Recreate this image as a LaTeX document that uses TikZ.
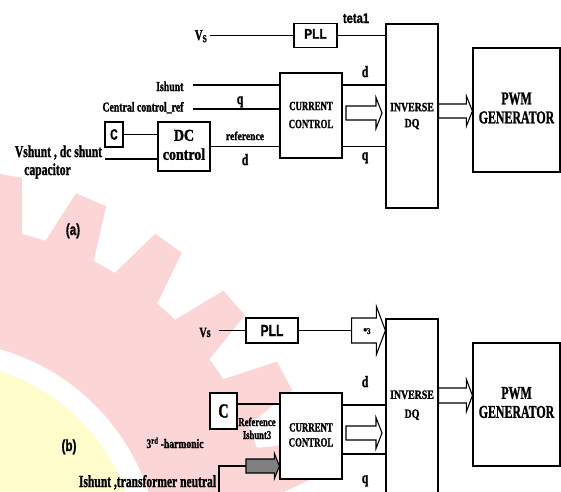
\documentclass[tikz,border=0pt]{standalone}
\usepackage{fontspec}
\setmainfont{Liberation Serif}[BoldFeatures={FakeBold=1.6}]
\setsansfont{Liberation Sans}[BoldFeatures={FakeBold=1.2}]
\usetikzlibrary{calc}
\definecolor{wmpink}{RGB}{252,213,215}
\definecolor{wmyellow}{RGB}{255,253,204}
\definecolor{arrgray}{RGB}{128,128,128}
\newcommand\fs[2]{\fontsize{#1}{#2}\selectfont\bfseries}
\newcommand\sq[2][0.72]{\scalebox{#1}[1]{#2}}
\newcommand\sqz[2][0.72]{\scalebox{#1}[1]{\begin{tabular}{@{}c@{}}#2\end{tabular}}}
\newcommand\harrow[6]{\draw[#6] let \p1=(#1), \p2=(#2) in (\x1,\y1+#3pt) -- (\x2-#5pt,\y1+#3pt) -- (\x2-#5pt,\y1+#4pt) -- (\x2,\y1) -- (\x2-#5pt,\y1-#4pt) -- (\x2-#5pt,\y1-#3pt) -- (\x1,\y1-#3pt) -- cycle;}
\begin{document}
\begin{tikzpicture}[x=1pt,y=-1pt,line width=1.2pt,
  box/.style={draw,fill=white,rectangle,inner sep=0pt,line width=1.2pt},
  lab/.style={inner sep=0pt,anchor=base},
  harr/.style={fill=white,line width=1.1pt}]
\useasboundingbox (0,0) rectangle (561,491);
\clip (0,0) rectangle (561,491);
% watermark gear
\begin{scope}[shift={(-60,560)}]
  \fill[wmpink] (0,0) circle[radius=336];
  \foreach \a in {119.45,106.4,93.35,80.3,67.25,54.2,41.15,28.1,15.05,2.0,-11.05}{
    \fill[wmpink] ({333*cos(\a-4.6)},{-333*sin(\a-4.6)}) -- ({391*cos(\a-2.4)},{-391*sin(\a-2.4)}) -- ({391*cos(\a+2.4)},{-391*sin(\a+2.4)}) -- ({333*cos(\a+4.6)},{-333*sin(\a+4.6)}) -- cycle;}
  \fill[white] (0,0) circle[radius=219];
  \fill[wmyellow] (0,0) circle[radius=198];
\end{scope}

% ---------- (a) ----------
\node[box,minimum width=43pt,minimum height=24pt] (plla) at (315.5,35.5) {\sffamily\fs{14}{16}\sqz[0.85]{PLL}};
\node[box,minimum width=52pt,minimum height=184pt] (dqa) at (412,116) {\fs{12.6}{16}\sqz[0.78]{INVERSE\\DQ}};
\node[box,minimum width=87pt,minimum height=124pt] (pwma) at (516.5,110) {\fs{18}{19}\sqz[0.66]{PWM\\GENERATOR}};
\node[box,minimum width=62pt,minimum height=85pt] (cca) at (311,115.5) {\fs{12.6}{18}\sqz[0.7]{CURRENT\\CONTROL}};
\node[box,minimum width=18pt,minimum height=25pt] (ca) at (114,134.5) {\sffamily\fs{15}{16}\sq[0.68]{C}};
\node[box,minimum width=52pt,minimum height=49pt] (dca) at (184,146.5) {\fs{16.6}{19}\sqz[0.84]{DC\\control}};

\node[lab,font=\fs{15}{16}] (vsa) at (201,40) {\sq{V\textsubscript{S}}};
\coordinate (vsaend) at (210,35.5);
\draw (vsaend) -- (plla.west);
\node[lab,font=\sffamily\fs{14}{16}] (teta) at (356,23) {\sq[0.8]{teta1}};
\draw (plla.east) -- (plla.east -| dqa.west);

\node[lab,anchor=base east,font=\fs{13.6}{15}] (ishl) at (184,91) {\sq{Ishunt}};
\coordinate (ishs) at (193,85);
\draw (ishs) -- (ishs -| cca.west);
\node[lab,anchor=base east,font=\fs{13.6}{15}] (ccrl) at (184,111.5) {\sq{Central control\_ref}};
\coordinate (ccrs) at (193,109);
\draw (ccrs) -- (ccrs -| cca.west);
\node[lab,font=\fs{16}{17}] (qa1) at (240,104) {\sq{q}};

\draw (ca.east) -- (ca.east -| dca.west);
\coordinate (vsh) at (105,159);
\draw (vsh) -- (vsh -| dca.west);
\node[lab,font=\fs{16.6}{18}] (vsht1) at (58.5,157) {\sq[0.7]{Vshunt , dc shunt}};
\node[lab,font=\fs{16.6}{18}] (vsht2) at (47.5,175) {\sq[0.7]{capacitor}};

\draw (dca.east) -- (dca.east -| cca.west);
\node[lab,font=\fs{12}{13}] (refl) at (245,140) {\sq[0.8]{reference}};
\node[lab,font=\fs{16}{17}] (da1) at (245,165) {\sq{d}};

\draw (cca.east |- ishs) -- (dqa.west |- ishs);
\draw (cca.east |- dca.east) -- (dqa.west |- dca.east);
\node[lab,font=\fs{16}{17}] (da2) at (365,77) {\sq{d}};
\node[lab,font=\fs{16}{17}] (qa2) at (365,160) {\sq{q}};

\coordinate (ia1s) at (346,113);
\coordinate (ia1e) at (382,113);
\harrow{ia1s}{ia1e}{7}{15.5}{6}{harr}
\path (dqa.east) ++(0,-5) coordinate (pa1s);
\coordinate (pa1e) at (pa1s -| pwma.west);
\harrow{pa1s}{pa1e}{7}{15}{6}{harr}

\node[lab,font=\sffamily\fs{16}{17}] (la) at (73,235) {\sq[0.73]{(a)}};

% ---------- (b) ----------
\node[box,minimum width=52pt,minimum height=25pt] (pllb) at (272,330.5) {\sffamily\fs{16}{17}\sq[0.76]{PLL}};
\node[box,minimum width=52pt,minimum height=201pt] (dqb) at (412,419.5) {};
\node[inner sep=0pt,font=\fs{12.6}{19}] (dqbt) at (412,404.5) {\sqz[0.78]{INVERSE\\DQ}};
\node[box,minimum width=87pt,minimum height=123pt] (pwmb) at (516.5,404.5) {\fs{18}{19}\sqz[0.66]{PWM\\GENERATOR}};
\node[box,minimum width=62pt,minimum height=86pt] (ccb) at (311,436) {\fs{12.6}{15}\sqz[0.7]{CURRENT\\CONTROL}};
\node[box,minimum width=27pt,minimum height=36pt] (cb) at (223.5,411) {\fs{20}{21}\sq[0.7]{C}};

\node[lab,font=\fs{14}{15}] (vsb) at (205,337) {\sq{Vs}};
\coordinate (vsbend) at (219,330.5);
\draw (vsbend) -- (pllb.west);
\path (pllb.east) ++(53,0) coordinate (s3s);
\coordinate (s3e) at (s3s -| dqb.west);
\draw (pllb.east) -- (s3s);
\harrow{s3s}{s3e}{12.5}{24}{9}{harr}
\node[lab,font=\fs{9}{10}] (s3l) at (367,334) {\sq[0.8]{*3}};

\path (ccb.east) ++(0,-31) coordinate (db);
\draw (db) -- (db -| dqb.west);
\path (ccb.east) ++(0,18) coordinate (qb);
\draw (qb) -- (qb -| dqb.west);
\node[lab,font=\fs{16}{17}] (db2) at (365,387) {\sq{d}};
\node[lab,font=\fs{16}{17}] (qb2) at (365,483) {\sq{q}};

\coordinate (ib1s) at (346,433);
\coordinate (ib1e) at (382,433);
\harrow{ib1s}{ib1e}{7}{15.5}{6}{harr}
\path (dqb.east) ++(0,-24) coordinate (pb1s);
\coordinate (pb1e) at (pb1s -| pwmb.west);
\harrow{pb1s}{pb1e}{7.5}{16}{6}{harr}

\path (cb.east) ++(0,-7) coordinate (cbs);
\draw (cbs) -- (cbs -| ccb.west);
\node[lab,font=\fs{12}{13}] (refb) at (257,426) {\sq[0.73]{Reference}};
\node[lab,font=\fs{12}{13}] (ish3) at (257,439) {\sq[0.72]{Ishunt3}};
\node[lab,font=\fs{13}{14}] (harm) at (175,448) {\sq[0.74]{3\textsuperscript{rd} -harmonic}};

\coordinate (gas) at (246,466);
\coordinate (gae) at (gas -| ccb.west);
\coordinate (inb) at (219,495);
\draw (inb) |- (gas);
\harrow{gas}{gae}{7}{12.5}{5}{fill=arrgray,draw=black,line width=1.1pt}
\node[lab,font=\fs{17}{18}] (itn) at (147.5,487) {\sq[0.68]{Ishunt ,transformer neutral}};
\node[lab,font=\sffamily\fs{16}{17}] (lb) at (69,451) {\sq[0.73]{(b)}};
\end{tikzpicture}
\end{document}
